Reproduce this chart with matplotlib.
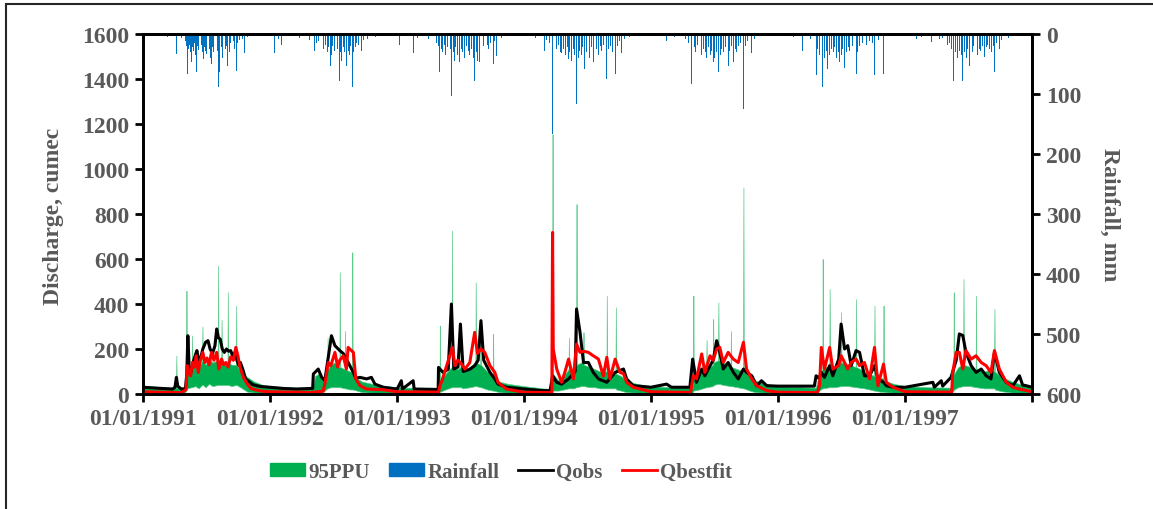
import numpy as np
import pandas as pd
import matplotlib
matplotlib.use("Agg")
import matplotlib.pyplot as plt
from matplotlib.patches import Patch, Rectangle
from matplotlib.lines import Line2D

plt.rcParams["font.family"] = ["Liberation Serif", "DejaVu Serif"]
plt.rcParams["font.weight"] = "bold"

START = pd.Timestamp("1991-01-01")
GRAY = "#595959"

# observed discharge (cumec), day index counted from 01/01/1991
qobs_day = [
    0, 40, 85, 92, 96, 100, 110, 122, 126, 129, 133, 138, 144, 150, 155, 160, 166, 172, 180, 187,
    193, 200, 207, 212, 217, 222, 228, 234, 240, 246, 252, 258, 264, 270, 276, 280, 287, 295, 305,
    315, 326, 340,
    365, 400, 440, 488, 490, 504, 514, 523, 542, 552, 566, 576, 585, 605, 612, 624, 643, 657, 667,
    691,
    731, 743, 746, 777, 780, 849, 850, 863, 878, 887, 894, 906, 913, 921, 940, 954, 964, 972, 980,
    998, 1012, 1021, 1045,
    1096, 1150, 1171, 1178, 1190, 1204, 1224, 1243, 1247, 1257, 1267, 1281, 1295, 1310, 1334,
    1358, 1382, 1391, 1410,
    1461, 1506, 1520, 1573, 1581, 1592, 1607, 1616, 1631, 1640, 1650, 1659, 1669, 1683, 1698,
    1712, 1727, 1736, 1751, 1765, 1779, 1794,
    1826, 1931, 1936, 1944, 1951, 1960, 1975, 1984, 2001, 2008, 2018, 2027, 2037, 2051, 2061,
    2075, 2090, 2104, 2114, 2130, 2138, 2157,
    2192, 2272, 2276, 2296, 2300, 2324, 2339, 2348, 2358, 2367, 2382, 2396, 2411, 2425, 2439,
    2449, 2463, 2483, 2502, 2521, 2530, 2540, 2557,
]
qobs = [
    30, 26, 22, 30, 74, 35, 22, 24, 90, 259, 110, 96, 140, 170, 193, 150, 160, 200, 230, 237,
    200, 180, 215, 289, 250, 244, 200, 185, 200, 190, 193, 170, 185, 150, 126, 140, 110, 67, 55,
    42, 37, 33,
    30, 25, 22, 25, 89, 111, 74, 60, 259, 215, 193, 180, 155, 96, 70, 74, 67, 74, 44,
    30,
    22, 59, 22, 59, 22, 20, 118, 96, 110, 400, 111, 120, 311, 100, 110, 126, 150, 326, 150,
    96, 67, 44, 30,
    22, 15, 15, 81, 52, 44, 67, 100, 378, 274, 140, 140, 96, 67, 52,
    96, 111, 67, 37,
    30, 44, 30, 30, 155, 52, 111, 81, 126, 150, 237, 185, 111, 140, 96,
    67, 111, 96, 81, 37, 59, 37,
    35, 35, 81, 70, 96, 74, 126, 81, 155, 311, 200, 215, 126, 193, 185,
    81, 81, 126, 67, 52, 37, 30,
    30, 52, 30, 59, 35, 74, 150, 267, 260, 185, 126, 96, 111, 81, 67,
    185, 96, 52, 37, 81, 40, 37, 30,
]

# best-fit simulated discharge (cumec)
qbest_day = [
    0, 60, 110, 124, 127, 131, 137, 142, 148, 153, 159, 165, 172, 178, 184, 190, 197, 204, 212,
    218, 226, 232, 238, 245, 252, 260, 267, 273, 278, 284, 290, 300, 310, 325, 345,
    365, 480, 518, 523, 533, 540, 552, 560, 566, 576, 585, 590, 605, 612, 624, 643, 691,
    731, 850, 854, 860, 890, 897, 905, 913, 926, 940, 954, 962, 972, 983, 998, 1012, 1021, 1045,
    1096, 1176, 1178, 1180, 1190, 1204, 1214, 1224, 1238, 1247, 1257, 1267, 1281, 1295, 1310,
    1324, 1334, 1343, 1358, 1372, 1382, 1391, 1410,
    1461, 1575, 1583, 1592, 1607, 1616, 1631, 1640, 1650, 1659, 1669, 1683, 1698, 1712, 1727,
    1736, 1751, 1765, 1794,
    1826, 1940, 1946, 1951, 1960, 1975, 1984, 2001, 2008, 2018, 2027, 2037, 2051, 2061, 2075,
    2090, 2104, 2114, 2130, 2138, 2157,
    2192, 2326, 2329, 2339, 2348, 2358, 2367, 2382, 2396, 2411, 2425, 2439, 2449, 2463, 2483,
    2502, 2521, 2557,
]
qbest = [
    10, 8, 6, 20, 126, 100, 81, 140, 120, 170, 96, 150, 185, 140, 160, 130, 185, 150, 185,
    111, 155, 130, 140, 120, 165, 150, 207, 170, 126, 96, 70, 45, 25, 18, 12,
    10, 7, 12, 44, 140, 125, 185, 120, 150, 170, 111, 207, 185, 67, 37, 22, 19,
    10, 8, 37, 60, 207, 126, 150, 140, 111, 140, 274, 180, 200, 185, 126, 96, 52, 22,
    8, 6, 718, 200, 111, 52, 100, 155, 67, 222, 185, 190, 185, 170, 155,
    80, 163, 67, 155, 96, 90, 52, 30,
    10, 7, 81, 67, 178, 96, 170, 150, 200, 207, 140, 185, 155, 140, 230,
    111, 67, 37, 15,
    8, 6, 40, 207, 111, 207, 111, 126, 170, 140, 111, 140, 155, 126, 140,
    67, 207, 37, 133, 52, 30,
    10, 8, 96, 185, 185, 111, 193, 155, 170, 140, 126, 96, 193, 111, 52,
    30, 22, 10,
]

# 95PPU band (cumec): day index, lower bound, upper bound
ppu_day = [
    0, 60, 95, 96, 97, 120, 124, 125, 126, 140, 141, 142, 150, 160, 170, 171, 172, 180, 190,
    200, 215, 216, 217, 225, 226, 227, 235, 243, 244, 245, 255, 267, 268, 269, 280, 290, 300,
    320, 345,
    365, 450, 488, 495, 505, 520, 530, 531, 532, 540, 550, 565, 566, 567, 580, 581, 582, 595,
    601, 602, 603, 615, 630, 660, 700,
    731, 760, 845, 853, 854, 855, 870, 888, 889, 890, 905, 913, 914, 915, 920, 940, 956, 957,
    958, 970, 971, 972, 990, 1006, 1007, 1008, 1025, 1050,
    1096, 1150, 1176, 1177, 1178, 1179, 1195, 1210, 1224, 1225, 1226, 1240, 1246, 1247, 1248,
    1260, 1266, 1267, 1268, 1285, 1300, 1315, 1333, 1334, 1335, 1350, 1359, 1360, 1361, 1375,
    1390, 1420,
    1461, 1520, 1580, 1582, 1583, 1584, 1600, 1620, 1621, 1622, 1639, 1640, 1641, 1654, 1655,
    1656, 1670, 1690, 1691, 1692, 1710, 1726, 1727, 1728, 1745, 1760, 1790,
    1826, 1900, 1935, 1945, 1954, 1955, 1956, 1974, 1975, 1976, 1990, 2007, 2008, 2009, 2030,
    2050, 2051, 2052, 2075, 2090, 2103, 2104, 2105, 2120, 2129, 2130, 2131, 2160,
    2192, 2260, 2325, 2331, 2332, 2333, 2345, 2359, 2360, 2361, 2380, 2395, 2396, 2397, 2420,
    2440, 2448, 2449, 2450, 2470, 2500, 2530, 2557,
]
ppu_low = [
    5, 5, 5, 10, 5, 5, 15, 20, 25, 30, 30, 30, 35, 25, 40, 40, 40, 30, 45,
    35, 40, 40, 40, 40, 40, 40, 40, 40, 40, 40, 35, 40, 40, 40, 30, 20, 10,
    6, 5,
    5, 5, 5, 15, 15, 10, 25, 25, 25, 30, 30, 30, 30, 30, 25, 25, 25, 20,
    20, 20, 20, 15, 8, 5, 5,
    5, 5, 5, 8, 10, 10, 20, 30, 30, 30, 30, 30, 30, 30, 25, 30, 35, 35,
    35, 30, 30, 30, 20, 15, 15, 15, 8, 5,
    5, 4, 4, 8, 10, 15, 15, 20, 25, 25, 25, 25, 30, 30, 30,
    35, 35, 35, 35, 30, 30, 25, 25, 25, 25, 25, 25, 25, 20, 15,
    8, 5,
    5, 5, 5, 10, 15, 15, 20, 30, 30, 30, 35, 35, 40, 45, 45,
    45, 40, 35, 35, 35, 30, 25, 25, 25, 15, 8, 5,
    5, 5, 5, 15, 25, 25, 25, 30, 30, 30, 30, 35, 35, 35, 35,
    30, 30, 30, 25, 20, 15, 15, 15, 10, 10, 10, 8, 5,
    5, 5, 5, 15, 15, 20, 30, 35, 35, 35, 35, 30, 30, 30, 25,
    25, 25, 25, 20, 12, 6, 5, 5,
]
ppu_high = [
    37, 30, 28, 170, 28, 28, 90, 459, 100, 120, 260, 120, 140, 110, 150, 300, 150, 130, 160,
    140, 150, 570, 150, 140, 330, 140, 130, 140, 452, 140, 130, 130, 393, 130, 100, 90, 75,
    55, 40,
    35, 28, 28, 80, 90, 60, 110, 250, 110, 130, 140, 120, 541, 120, 110, 280, 110, 100,
    100, 630, 90, 70, 55, 45, 35,
    30, 28, 28, 40, 304, 60, 90, 120, 726, 120, 110, 120, 300, 120, 100, 120, 140, 496,
    140, 130, 330, 130, 100, 80, 267, 70, 55, 45,
    35, 25, 22, 60, 1155, 90, 60, 80, 110, 250, 110, 100, 120, 844, 130,
    140, 140, 274, 130, 120, 110, 100, 100, 437, 100, 90, 90, 385, 90, 80,
    60, 45,
    35, 30, 28, 60, 437, 70, 90, 110, 240, 110, 130, 333, 140, 150, 407,
    150, 140, 120, 280, 120, 110, 100, 918, 100, 80, 60, 45,
    35, 30, 28, 90, 110, 600, 120, 120, 467, 120, 120, 140, 363, 140, 130,
    120, 422, 120, 100, 90, 80, 393, 80, 70, 70, 393, 60, 45,
    35, 30, 28, 80, 452, 90, 120, 130, 511, 130, 120, 110, 437, 110, 100,
    110, 100, 378, 100, 75, 55, 40, 30,
]

# daily rainfall (mm), day index counted from 01/01/1991
rain_day = [
    # 1991
    20, 45, 70, 96, 110, 122, 125, 128, 131, 134, 137, 139, 142, 145, 148, 151, 153, 157, 160,
    164, 167, 170, 173, 177, 180, 183, 187, 190, 193, 197, 200, 203, 207, 210, 213, 216, 219,
    221, 225, 229, 233, 237, 241, 244, 248, 252, 256, 260, 264, 268, 272, 278, 285, 292, 300, 340,
    # 1992
    375, 379, 390, 399, 420, 450, 480, 494, 500, 505, 512, 518, 525, 530, 534, 538, 542, 546,
    550, 555, 560, 564, 568, 572, 576, 580, 586, 590, 595, 598, 602, 606, 610, 615, 620, 629,
    635, 645, 653, 670, 700,
    # 1993
    737, 750, 777, 790, 820, 845, 850, 854, 858, 862, 866, 870, 875, 880, 884, 887, 892, 896,
    900, 905, 911, 915, 920, 925, 930, 935, 940, 945, 950, 954, 958, 962, 969, 975, 980, 990,
    995, 1000, 1007, 1012, 1017, 1030, 1060,
    # 1994
    1110, 1130, 1156, 1160, 1170, 1178, 1185, 1190, 1195, 1200, 1204, 1210, 1215, 1220, 1224,
    1228, 1233, 1238, 1242, 1247, 1252, 1256, 1260, 1265, 1271, 1276, 1280, 1285, 1290, 1295,
    1300, 1305, 1310, 1315, 1320, 1325, 1334, 1340, 1345, 1350, 1358, 1365, 1370, 1377, 1385,
    1400, 1430,
    # 1995
    1480, 1506, 1530, 1560, 1570, 1578, 1585, 1590, 1595, 1602, 1607, 1612, 1617, 1622, 1627,
    1632, 1636, 1640, 1645, 1650, 1655, 1660, 1665, 1670, 1675, 1683, 1688, 1693, 1698, 1703,
    1708, 1713, 1718, 1727, 1733, 1740, 1751, 1760, 1790,
    # 1996
    1840, 1870, 1898, 1920, 1930, 1936, 1940, 1945, 1950, 1955, 1960, 1965, 1970, 1975, 1980,
    1985, 1990, 1995, 2000, 2003, 2008, 2012, 2018, 2023, 2028, 2033, 2040, 2045, 2051, 2056,
    2062, 2070, 2080, 2090, 2097, 2104, 2115, 2130, 2140, 2170,
    # 1997
    2205, 2224, 2240, 2267, 2290, 2300, 2315, 2320, 2326, 2332, 2337, 2342, 2348, 2353, 2358,
    2363, 2368, 2372, 2377, 2385, 2390, 2396, 2400, 2405, 2410, 2415, 2420, 2425, 2430, 2435,
    2440, 2445, 2449, 2455, 2463, 2470, 2490, 2520, 2540,
]
rain_mm = [
    # 1991
    3, 4, 5, 33, 6, 12, 20, 67, 25, 18, 30, 47, 22, 28, 15, 35, 64, 20, 26,
    38, 18, 30, 42, 22, 28, 34, 53, 25, 40, 50, 22, 30, 18, 35, 28, 89, 30,
    64, 22, 40, 18, 25, 20, 53, 30, 15, 22, 12, 25, 61, 15, 10, 8, 31, 5, 3,
    # 1992
    3, 31, 8, 19, 5, 6, 10, 28, 15, 12, 20, 25, 18, 30, 22, 53, 35, 20,
    28, 40, 25, 78, 30, 45, 22, 30, 53, 28, 35, 20, 89, 30, 22, 15, 18, 28,
    10, 8, 19, 5, 4,
    # 1993
    19, 4, 31, 6, 8, 15, 20, 64, 25, 30, 18, 35, 22, 40, 25, 103, 30, 45,
    22, 35, 47, 25, 30, 40, 20, 28, 35, 25, 40, 78, 30, 45, 47, 25, 20, 18,
    25, 15, 50, 12, 36, 6, 4,
    # 1994
    4, 6, 28, 10, 15, 167, 20, 25, 18, 30, 31, 25, 35, 22, 42,
    30, 45, 25, 35, 117, 40, 28, 35, 22, 58, 30, 25, 40, 22, 47,
    30, 25, 35, 20, 28, 18, 75, 25, 20, 30, 67, 20, 12, 31, 8,
    5, 4,
    # 1995
    3, 11, 5, 8, 15, 83, 22, 30, 18, 64, 35, 25, 30, 40, 22,
    35, 28, 47, 40, 30, 64, 35, 25, 30, 22, 53, 28, 20, 47, 25,
    30, 20, 15, 125, 20, 12, 31, 8, 4,
    # 1996
    3, 5, 28, 8, 15, 69, 25, 35, 30, 89, 40, 28, 58, 35, 25,
    30, 22, 40, 30, 47, 35, 25, 56, 30, 22, 28, 20, 25, 67, 30,
    20, 15, 18, 12, 15, 69, 10, 67, 6, 3,
    # 1997
    3, 8, 5, 14, 8, 6, 19, 15, 25, 78, 30, 40, 28, 35, 78,
    30, 40, 25, 53, 30, 20, 64, 35, 25, 28, 20, 39, 22, 18, 25,
    30, 20, 64, 15, 25, 10, 6, 4, 3,
]

year_ticks = ["01/01/1991", "01/01/1992", "01/01/1993", "01/01/1994",
              "01/01/1995", "01/01/1996", "01/01/1997", "01/01/1998"]


def to_dates(days):
    return START + pd.to_timedelta(np.asarray(days), unit="D")


W, H = 1153, 510
fig = plt.figure(figsize=(W / 100, H / 100), dpi=100)
ax = fig.add_axes([143 / W, 1 - 395 / H, (1032 - 143) / W, (395 - 35) / H])

# outer chart frame (runs off the right and bottom edges)
fig.patches.append(Rectangle((6 / W, -0.05), 1.2, 1 - 5 / H + 0.05, transform=fig.transFigure,
                             fill=False, edgecolor="#262626", linewidth=1.5))

# thin, lighter edge keeps the one-day PPU spikes visible
ax.fill_between(to_dates(ppu_day), ppu_low, ppu_high, facecolor="#00B050",
                edgecolor="#5FCB8C", linewidth=0.5, zorder=2)
ax.plot(to_dates(qobs_day), qobs, color="black", linewidth=2.2, zorder=3)
ax.plot(to_dates(qbest_day), qbest, color="#FF0000", linewidth=2.2, zorder=4)

ax.set_ylim(0, 1600)
ax.set_yticks(range(0, 1601, 200))
x0 = pd.Timestamp("1991-01-01")
x1 = pd.Timestamp("1998-01-01")
ax.set_xlim(x0, x1)
ticks = pd.to_datetime(year_ticks, format="%d/%m/%Y")
ax.set_xticks(ticks)
ax.set_xticklabels(year_ticks[:-1] + [""])

ax2 = ax.twinx()
ax2.bar(to_dates(rain_day), rain_mm, width=2.6, color="#0070C0", linewidth=0, zorder=2)
ax2.set_ylim(600, 0)
ax2.set_yticks(range(0, 601, 100))
ax2.set_xlim(x0, x1)

for a in (ax, ax2):
    for s in a.spines.values():
        s.set_linewidth(2)
        s.set_color("black")
    a.tick_params(direction="out", length=6, width=2, colors="black",
                  labelcolor=GRAY, labelsize=17, pad=4)

fig.text(54 / W, 1 - 216 / H, "Discharge, cumec", rotation=90, ha="center", va="center",
         fontsize=17, color=GRAY, fontweight="bold")
fig.text(1110 / W, 1 - 215 / H, "Rainfall, mm", rotation=270, ha="center", va="center",
         fontsize=17, color=GRAY, fontweight="bold")

handles = [
    Patch(color="#00B050"),
    Patch(color="#0070C0"),
    Line2D([], [], color="black", linewidth=2),
    Line2D([], [], color="#FF0000", linewidth=2),
]
labels = ["95PPU", "Rainfall", "Qobs", "Qbestfit"]
leg = fig.legend(handles, labels, loc="center", bbox_to_anchor=(501 / W, 1 - 473 / H),
                 ncol=4, frameon=False, fontsize=15, handlelength=1.7, handleheight=0.55,
                 handletextpad=0.15, columnspacing=0.9)
for t in leg.get_texts():
    t.set_color(GRAY)

fig.savefig("out.png", dpi=100)
